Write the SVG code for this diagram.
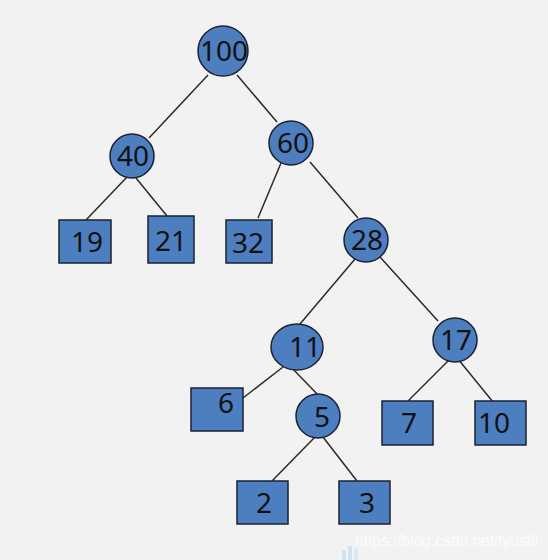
<svg xmlns="http://www.w3.org/2000/svg" width="548" height="560" viewBox="0 0 548 560">
<style>
.n{fill:#4d7ebf;stroke:#1c2230;stroke-width:1.5}
.t{font-family:"Noto Sans","Open Sans",sans-serif;font-size:28px;fill:#111;text-anchor:middle}
.e{stroke:#2a2a2a;stroke-width:1.5;fill:none}
.w{font-family:"Liberation Sans",Arial,sans-serif;font-size:16px;fill:#ffffff;fill-opacity:0.8}
</style>
<rect width="548" height="560" fill="#f2f2f2"/>
<g id="edges">
<line class="e" x1="208" y1="75" x2="149" y2="138"/>
<line class="e" x1="237" y1="75" x2="277" y2="122"/>
<line class="e" x1="128" y1="176" x2="86" y2="220"/>
<line class="e" x1="136" y1="178" x2="167" y2="216"/>
<line class="e" x1="281" y1="163" x2="258" y2="218"/>
<line class="e" x1="310" y1="162" x2="358" y2="218"/>
<line class="e" x1="355" y1="259" x2="300" y2="324"/>
<line class="e" x1="380" y1="257" x2="438" y2="321"/>
<line class="e" x1="283" y1="367" x2="243" y2="398"/>
<line class="e" x1="291" y1="367" x2="319" y2="396"/>
<line class="e" x1="315" y1="437" x2="272" y2="481"/>
<line class="e" x1="323" y1="437" x2="357" y2="481"/>
<line class="e" x1="450" y1="359" x2="408" y2="401"/>
<line class="e" x1="458" y1="359" x2="493" y2="402"/>
</g>
<g id="n100"><circle class="n" cx="223" cy="51" r="25"/><text class="t" x="224" y="61">100</text></g>
<g id="n40"><circle class="n" cx="132" cy="156" r="22"/><text class="t" x="133" y="166">40</text></g>
<g id="n60"><circle class="n" cx="291" cy="143" r="22"/><text class="t" x="293" y="153">60</text></g>
<g id="n19"><rect class="n" x="59" y="220" width="52" height="43"/><text class="t" x="87" y="252">19</text></g>
<g id="n21"><rect class="n" x="148" y="216" width="46" height="47"/><text class="t" x="171" y="251">21</text></g>
<g id="n32"><rect class="n" x="226" y="220" width="46" height="43"/><text class="t" x="248" y="253">32</text></g>
<g id="n28"><circle class="n" cx="366" cy="240" r="22"/><text class="t" x="367" y="250">28</text></g>
<g id="n11"><ellipse class="n" cx="297" cy="347" rx="26" ry="23"/><text class="t" x="305" y="357">11</text></g>
<g id="n17"><circle class="n" cx="455" cy="340" r="22"/><text class="t" x="456" y="350">17</text></g>
<g id="n6"><rect class="n" x="191" y="388" width="52" height="43"/><text class="t" x="226" y="413">6</text></g>
<g id="n5"><circle class="n" cx="318" cy="416" r="22"/><text class="t" x="322" y="427">5</text></g>
<g id="n7"><rect class="n" x="382" y="401" width="51" height="44"/><text class="t" x="409" y="433">7</text></g>
<g id="n10"><rect class="n" x="475" y="401" width="51" height="44"/><text class="t" x="494" y="433">10</text></g>
<g id="n2"><rect class="n" x="237" y="481" width="51" height="43"/><text class="t" x="264" y="513">2</text></g>
<g id="n3"><rect class="n" x="339" y="481" width="51" height="43"/><text class="t" x="367" y="513">3</text></g>
<g id="watermark">
<rect x="342" y="550" width="4" height="10" fill="#cfe3f2"/>
<rect x="348" y="546" width="4" height="14" fill="#cfe3f2"/>
<rect x="354" y="548" width="4" height="12" fill="#d8e9f5"/>
<text class="w" x="355" y="546" textLength="183" lengthAdjust="spacingAndGlyphs">https://blog.csdn.net/tyustli</text>
</g>
</svg>
